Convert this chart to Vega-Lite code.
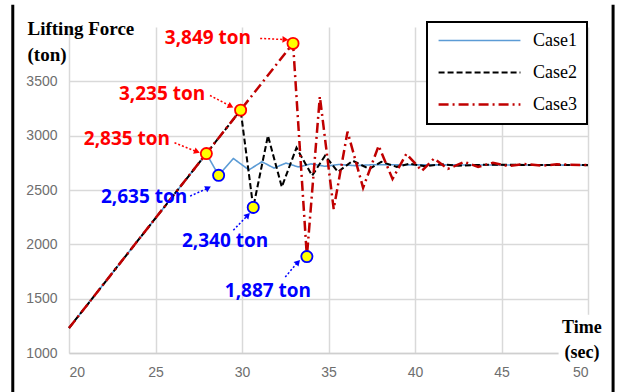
{
  "$schema": "https://vega.github.io/schema/vega-lite/v6.json",
  "width": 519,
  "height": 326,
  "autosize": "none",
  "padding": {"left": 69, "top": 27, "right": 29, "bottom": 39},
  "background": "white",
  "config": {
    "view": {"stroke": null},
    "axis": {
      "labelFont": "Liberation Sans",
      "labelFontSize": 14,
      "labelColor": "#6e6e6e",
      "gridColor": "#d9d9d9",
      "gridWidth": 1.5,
      "ticks": false
    }
  },
  "datasets": {
    "series": [
      {"case": "Case1", "t": 20, "v": 1230},
      {"case": "Case1", "t": 27.94, "v": 2835},
      {"case": "Case1", "t": 28.65, "v": 2635},
      {"case": "Case1", "t": 29.5, "v": 2790},
      {"case": "Case1", "t": 30.4, "v": 2685},
      {"case": "Case1", "t": 31.15, "v": 2760},
      {"case": "Case1", "t": 31.85, "v": 2702},
      {"case": "Case1", "t": 32.55, "v": 2748},
      {"case": "Case1", "t": 33.25, "v": 2712},
      {"case": "Case1", "t": 34.0, "v": 2740},
      {"case": "Case1", "t": 34.8, "v": 2718},
      {"case": "Case1", "t": 35.6, "v": 2735},
      {"case": "Case1", "t": 36.5, "v": 2724},
      {"case": "Case1", "t": 37.5, "v": 2732},
      {"case": "Case1", "t": 50, "v": 2729},
      {"case": "Case2", "t": 20, "v": 1230},
      {"case": "Case2", "t": 29.92, "v": 3235},
      {"case": "Case2", "t": 30.65, "v": 2340},
      {"case": "Case2", "t": 31.5, "v": 3000},
      {"case": "Case2", "t": 32.3, "v": 2528},
      {"case": "Case2", "t": 33.15, "v": 2889},
      {"case": "Case2", "t": 34.05, "v": 2632},
      {"case": "Case2", "t": 34.8, "v": 2815},
      {"case": "Case2", "t": 35.55, "v": 2667},
      {"case": "Case2", "t": 36.4, "v": 2769},
      {"case": "Case2", "t": 37.35, "v": 2694},
      {"case": "Case2", "t": 38.05, "v": 2759},
      {"case": "Case2", "t": 38.95, "v": 2713},
      {"case": "Case2", "t": 39.7, "v": 2742},
      {"case": "Case2", "t": 40.6, "v": 2719},
      {"case": "Case2", "t": 41.5, "v": 2736},
      {"case": "Case2", "t": 42.5, "v": 2724},
      {"case": "Case2", "t": 44.0, "v": 2732},
      {"case": "Case2", "t": 50, "v": 2729},
      {"case": "Case3", "t": 20, "v": 1230},
      {"case": "Case3", "t": 32.95, "v": 3849},
      {"case": "Case3", "t": 33.75, "v": 1887},
      {"case": "Case3", "t": 34.5, "v": 3360},
      {"case": "Case3", "t": 35.3, "v": 2324},
      {"case": "Case3", "t": 36.1, "v": 3037},
      {"case": "Case3", "t": 37.0, "v": 2520},
      {"case": "Case3", "t": 37.9, "v": 2907},
      {"case": "Case3", "t": 38.7, "v": 2602},
      {"case": "Case3", "t": 39.5, "v": 2833},
      {"case": "Case3", "t": 40.4, "v": 2676},
      {"case": "Case3", "t": 41.1, "v": 2790},
      {"case": "Case3", "t": 41.9, "v": 2694},
      {"case": "Case3", "t": 42.85, "v": 2759},
      {"case": "Case3", "t": 43.65, "v": 2713},
      {"case": "Case3", "t": 44.5, "v": 2750},
      {"case": "Case3", "t": 45.4, "v": 2720},
      {"case": "Case3", "t": 46.3, "v": 2740},
      {"case": "Case3", "t": 47.3, "v": 2724},
      {"case": "Case3", "t": 48.2, "v": 2736},
      {"case": "Case3", "t": 50, "v": 2729}
    ],
    "extremes": [
      {"kind": "peak", "t": 27.94, "v": 2835, "label": "2,835 ton", "lt": 23.35, "lv": 2965, "at": 26.1, "av": 2935, "bt": 27.35, "bv": 2855, "heading": 111},
      {"kind": "peak", "t": 29.92, "v": 3235, "label": "3,235 ton", "lt": 25.38, "lv": 3380, "at": 28.15, "av": 3370, "bt": 29.3, "bv": 3275, "heading": 117},
      {"kind": "peak", "t": 32.95, "v": 3849, "label": "3,849 ton", "lt": 28.03, "lv": 3900, "at": 31.05, "av": 3895, "bt": 32.45, "bv": 3885, "heading": 92},
      {"kind": "trough", "t": 28.65, "v": 2635, "label": "2,635 ton", "lt": 24.34, "lv": 2440, "at": 27.0, "av": 2444, "bt": 28.0, "bv": 2515, "heading": 63},
      {"kind": "trough", "t": 30.65, "v": 2340, "label": "2,340 ton", "lt": 29.02, "lv": 2030, "at": 29.5, "av": 2130, "bt": 30.3, "bv": 2262, "heading": 43},
      {"kind": "trough", "t": 33.75, "v": 1887, "label": "1,887 ton", "lt": 31.5, "lv": 1570, "at": 32.5, "av": 1700, "bt": 33.2, "bv": 1830, "heading": 43}
    ],
    "edges": [
      {"t": 16.75, "top": 4205, "bottom": 600},
      {"t": 51.45, "top": 4205, "bottom": 600}
    ],
    "xtitle": [
      {"t": 49.65, "v": 1185, "t0": 48.3, "t1": 50.95, "v0": 1352, "v1": 885, "text": "Time\n(sec)"}
    ]
  },
  "encoding": {
    "x": {
      "type": "quantitative",
      "scale": {"domain": [20, 50], "nice": false},
      "axis": {
        "title": null,
        "values": [20, 25, 30, 35, 40, 45, 50],
        "format": "d",
        "labelPadding": 12,
        "domainColor": "#cfcfcf",
        "domainWidth": 1.5
      }
    },
    "y": {
      "type": "quantitative",
      "scale": {"domain": [1000, 4000], "nice": false},
      "axis": {
        "values": [1000, 1500, 2000, 2500, 3000, 3500],
        "format": "d",
        "domain": false,
        "labelPadding": 12,
        "title": ["Lifting Force", "(ton)"],
        "titleFont": "Liberation Serif",
        "titleFontSize": 19,
        "titleFontWeight": "bold",
        "titleColor": "#000000",
        "titleAngle": 0,
        "titleAlign": "left",
        "titleBaseline": "alphabetic",
        "titleLineHeight": 26,
        "titleX": -42,
        "titleY": 7
      }
    }
  },
  "layer": [
    {
      "data": {"name": "edges"},
      "mark": {"type": "rule", "color": "#000000", "strokeWidth": 3},
      "encoding": {
        "x": {"field": "t", "type": "quantitative"},
        "y": {"field": "top", "type": "quantitative"},
        "y2": {"field": "bottom"}
      }
    },
    {
      "data": {"name": "series"},
      "mark": {"type": "line"},
      "encoding": {
        "x": {"field": "t", "type": "quantitative"},
        "y": {"field": "v", "type": "quantitative"},
        "color": {
          "field": "case",
          "type": "nominal",
          "scale": {"domain": ["Case1", "Case2", "Case3"], "range": ["#5b9bd5", "#000000", "#c00000"]},
          "legend": {
            "title": null,
            "orient": "none",
            "legendX": 358,
            "legendY": -5,
            "symbolType": "stroke",
            "symbolSize": 6700,
            "symbolStrokeWidth": 2.5,
            "clipHeight": 17,
            "labelFont": "Liberation Serif",
            "labelFontSize": 18,
            "labelColor": "#000000",
            "labelOffset": 11,
            "labelExpr": "datum.label + '    '",
            "rowPadding": 13,
            "padding": 10,
            "strokeColor": "#000000",
            "fillColor": "#ffffff",
            "encode": {"legend": {"update": {"strokeWidth": {"value": 2}}}}
          }
        },
        "strokeDash": {
          "field": "case",
          "type": "nominal",
          "scale": {"domain": ["Case1", "Case2", "Case3"], "range": [[1, 0], [6, 3], [10, 4, 2, 4]]}
        },
        "strokeWidth": {
          "field": "case",
          "type": "nominal",
          "scale": {"domain": ["Case1", "Case2", "Case3"], "range": [1.6, 2.5, 2.6]},
          "legend": null
        }
      }
    },
    {
      "data": {"name": "extremes"},
      "mark": {"type": "rule", "strokeDash": [2, 2], "strokeWidth": 1.5},
      "encoding": {
        "x": {"field": "at", "type": "quantitative"},
        "y": {"field": "av", "type": "quantitative"},
        "x2": {"field": "bt"},
        "y2": {"field": "bv"},
        "stroke": {
          "field": "kind",
          "type": "nominal",
          "scale": {"domain": ["peak", "trough"], "range": ["#ff0000", "#0000ff"]},
          "legend": null
        }
      }
    },
    {
      "data": {"name": "extremes"},
      "mark": {"type": "point", "shape": "triangle", "filled": true, "size": 45, "opacity": 1},
      "encoding": {
        "x": {"field": "bt", "type": "quantitative"},
        "y": {"field": "bv", "type": "quantitative"},
        "angle": {"field": "heading", "type": "quantitative", "scale": null},
        "fill": {
          "field": "kind",
          "type": "nominal",
          "scale": {"domain": ["peak", "trough"], "range": ["#ff0000", "#0000ff"]},
          "legend": null
        }
      }
    },
    {
      "data": {"name": "extremes"},
      "mark": {"type": "point", "filled": false, "fill": "#ffff00", "fillOpacity": 1, "opacity": 1, "size": 125, "strokeWidth": 1.8},
      "encoding": {
        "x": {"field": "t", "type": "quantitative"},
        "y": {"field": "v", "type": "quantitative"},
        "stroke": {"field": "kind", "type": "nominal", "legend": null}
      }
    },
    {
      "data": {"name": "extremes"},
      "mark": {"type": "text", "font": "Open Sans", "fontSize": 19, "fontWeight": "bold", "baseline": "middle", "align": "center"},
      "encoding": {
        "x": {"field": "lt", "type": "quantitative"},
        "y": {"field": "lv", "type": "quantitative"},
        "text": {"field": "label"},
        "fill": {"field": "kind", "type": "nominal", "legend": null}
      }
    },
    {
      "data": {"name": "xtitle"},
      "mark": {"type": "rect", "color": "#ffffff"},
      "encoding": {
        "x": {"field": "t0", "type": "quantitative"},
        "x2": {"field": "t1"},
        "y": {"field": "v0", "type": "quantitative"},
        "y2": {"field": "v1"}
      }
    },
    {
      "data": {"name": "xtitle"},
      "mark": {"type": "text", "font": "Liberation Serif", "fontSize": 18, "fontWeight": "bold", "color": "#000000", "align": "center", "baseline": "alphabetic", "lineBreak": "\n", "lineHeight": 25},
      "encoding": {
        "x": {"field": "t", "type": "quantitative"},
        "y": {"field": "v", "type": "quantitative"},
        "text": {"field": "text"}
      }
    }
  ]
}
